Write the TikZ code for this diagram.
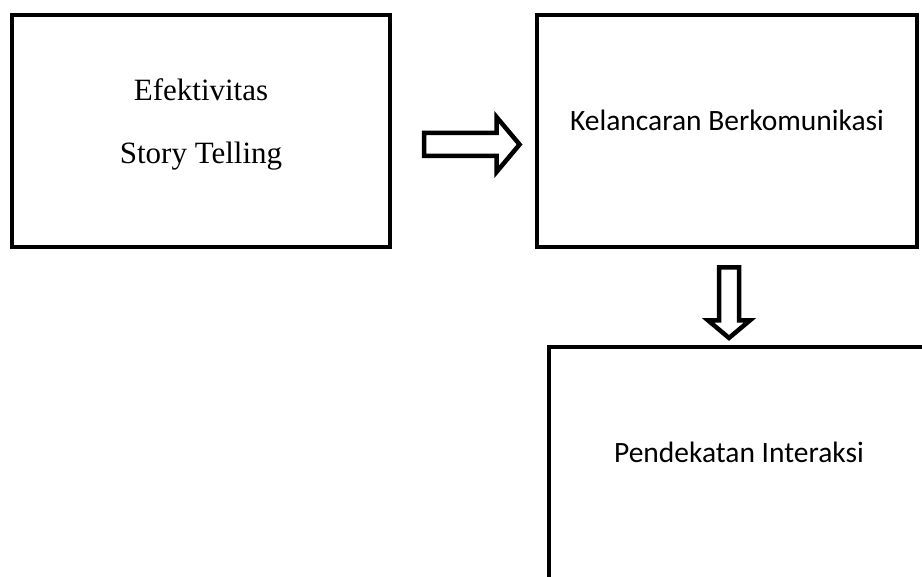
\documentclass[tikz,border=0pt]{standalone}
\usepackage{fontspec}
\setmainfont{Liberation Serif}
\newfontfamily\carlito{Carlito}
\usetikzlibrary{shapes.arrows,positioning}
\tikzset{
  box/.style={draw,line width=4.5pt,minimum width=380pt,minimum height=232pt,inner sep=0pt},
  serif/.style={font=\fontsize{31}{63}\selectfont,align=center,inner sep=0pt},
  sans/.style={font=\carlito\fontsize{29.5}{36}\selectfont,inner sep=0pt},
  flow/.style={single arrow,draw,line width=4.5pt,inner xsep=0pt,single arrow tip angle=100},
}
\begin{document}
\begin{tikzpicture}[x=1pt,y=-1pt]
  \useasboundingbox (0,0) rectangle (922,577);
  % boxes
  \node[box,minimum width=378pt] (efek) at (201,131) {};
  \node[box] (lancar) at (727,131) {};
  \node[box] (interaksi) at (739,463) {};
  % texts
  \node[serif] (efek-txt) at ([yshift=7pt]efek.center) {Efektivitas\\Story Telling};
  \node[sans,anchor=base] (lancar-txt) at (lancar.center) {Kelancaran Berkomunikasi};
  \node[sans,anchor=base] (interaksi-txt) at (interaksi.center) {Pendekatan Interaksi};
  % hollow arrows
  \node[flow,minimum height=95.5pt,inner ysep=9.25pt,single arrow head extend=16pt] (to-lancar) at (467,144.5) {};
  \node[flow,rotate=-90,minimum height=70.5pt,inner ysep=7.75pt,single arrow head extend=11pt] (to-interaksi) at (729,298.5) {};
\end{tikzpicture}
\end{document}
